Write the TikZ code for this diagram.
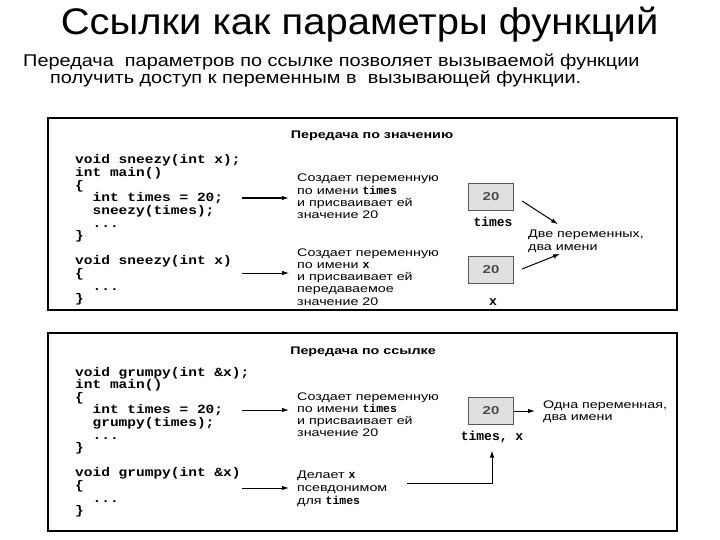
\documentclass[tikz,border=0pt]{standalone}
\usepackage{fontspec}
\setmainfont{Liberation Sans}
\setmonofont{Liberation Mono}
\newfontfamily\widesf[FakeStretch=1.3]{Liberation Sans}
\newfontfamily\titlesf[FakeStretch=1.08]{Liberation Sans}
\newfontfamily\subsf[FakeStretch=1.17]{Liberation Sans}
\newfontfamily\codett[FakeStretch=1.16]{Liberation Mono}
\usetikzlibrary{arrows.meta}

% short code words inside the notes
\newcommand{\cw}[1]{{\ttfamily\bfseries\fontsize{11.5}{12}\selectfont #1}}
% the three dots of the listings (pgffor reads ... as a range)
\newcommand{\skipped}{.{}.{}.}

\begin{document}
\begin{tikzpicture}[
    x=1pt, y=-1pt,
    >={Latex[length=7pt,width=4.5pt]},
    % frame of a panel
    panel/.style={draw=black, line width=2.5pt},
    % one line of C++ code
    code/.style={anchor=base west, inner sep=0pt,
        font=\codett\bfseries\fontsize{12.5}{12.5}\selectfont},
    % one line of explaining text
    note/.style={anchor=base west, inner sep=0pt,
        font=\widesf\fontsize{11}{12}\selectfont},
    head/.style={anchor=base, inner sep=0pt,
        font=\widesf\bfseries\fontsize{11}{12}\selectfont},
    % memory cell
    cell/.style={draw=black!65, fill=black!12, line width=1.2pt,
        minimum width=45pt, minimum height=27pt,
        font=\widesf\bfseries\fontsize{11.5}{12}\selectfont, text=black!70},
    vname/.style={anchor=base, inner sep=0pt,
        font=\ttfamily\bfseries\fontsize{13}{13}\selectfont},
    signal/.style={->, line width=1pt, shorten >=8pt}
]
\useasboundingbox (0,0) rectangle (720,540);

% Title and subtitle
\node[anchor=base, inner sep=0pt, font=\titlesf\fontsize{37}{40}\selectfont] (title) at (359.5,35)
    {Ссылки как параметры функций};
\node[anchor=base west, inner sep=0pt, font=\subsf\fontsize{17}{18}\selectfont] (sub1) at (23,67)
    {Передача\ \ параметров по ссылке позволяет вызываемой функции};
\node[anchor=base west, inner sep=0pt, font=\subsf\fontsize{17}{18}\selectfont] (sub2) at (50,84)
    {получить доступ к переменным в\ \ вызывающей функции.};

% ---------- Передача по значению ----------
\draw[panel] (48,118) rectangle (677,310);
\node[head] (hval) at (372,139) {Передача по значению};

\foreach \k/\t in {0/void sneezy(int x);, 1/int main(), 2/\{, 3/~~int times = 20;,
                   4/~~sneezy(times);, 5/~~\skipped, 6/\}, 8/void sneezy(int x), 9/\{,
                   10/~~\skipped, 11/\}}
    \node[code] (sv\k) at (75,164+12.6*\k) {\t};

\foreach \t [count=\i] in {Создает переменную, по имени \cw{times},
                           и присваивает ей, значение 20}
    \node[note] (na\i) at (297,182+12.3*\i-12.3) {\t};
\foreach \t [count=\i] in {Создает переменную, по имени \cw{x},
                           и присваивает ей, передаваемое, значение 20}
    \node[note] (nb\i) at (297,256+12.3*\i-12.3) {\t};

\node[cell] (v1) at (491,197) {20};
\node[vname] (l1) at (493,226.5) {times};
\node[cell] (v2) at (491,270) {20};
\node[vname] (l2) at (493,305) {x};
\node[note] (d1) at (528,237) {Две переменных,};
\node[note] (d2) at (528,250.5) {два имени};

\coordinate (s1) at (242,198);
\coordinate (s2) at (242,273);
\draw[signal, line width=1.3pt] (s1) -- (s1 -| na1.west);
\draw[signal, line width=0.8pt] (s2) -- (s2 -| nb1.west);
\draw[signal, shorten >=0pt] ([xshift=8pt,yshift=-4pt]v1.east) -- ([xshift=30pt,yshift=5pt]d1.north west);
\draw[signal, shorten >=0pt] ([xshift=8pt,yshift=1pt]v2.east) -- ([xshift=32pt,yshift=-1pt]d2.south west);

% ---------- Передача по ссылке ----------
\draw[panel] (48,333) rectangle (677,531);
\node[head] (href) at (363,354) {Передача по ссылке};

\foreach \k/\t in {0/void grumpy(int \&x);, 1/int main(), 2/\{, 3/~~int times = 20;,
                   4/~~grumpy(times);, 5/~~\skipped, 6/\}, 8/void grumpy(int \&x), 9/\{,
                   10/~~\skipped, 11/\}}
    \node[code] (gr\k) at (75,376+12.6*\k) {\t};

\foreach \t [count=\i] in {Создает переменную, по имени \cw{times},
                           и присваивает ей, значение 20}
    \node[note] (nc\i) at (297,400+12.3*\i-12.3) {\t};
\foreach \t [count=\i] in {Делает \cw{x}, псевдонимом, для \cw{times}}
    \node[note] (nd\i) at (297,478+13*\i-13) {\t};

\node[cell] (v3) at (491,411) {20};
\node[vname] (l3) at (492,440) {times, x};
\node[note] (o1) at (543,408) {Одна переменная,};
\node[note] (o2) at (543,420.5) {два имени};

\coordinate (s3) at (242,410);
\coordinate (s4) at (242,488);
\coordinate (s5) at (407,483);
\draw[signal] (s3) -- (s3 -| nc1.west);
\draw[signal] (s4) -- (s4 -| nd1.west);
\draw[signal] (v3.east) -- (v3.east -| o1.west);
\draw[signal] (s5) -| (l3.south);

\end{tikzpicture}
\end{document}
